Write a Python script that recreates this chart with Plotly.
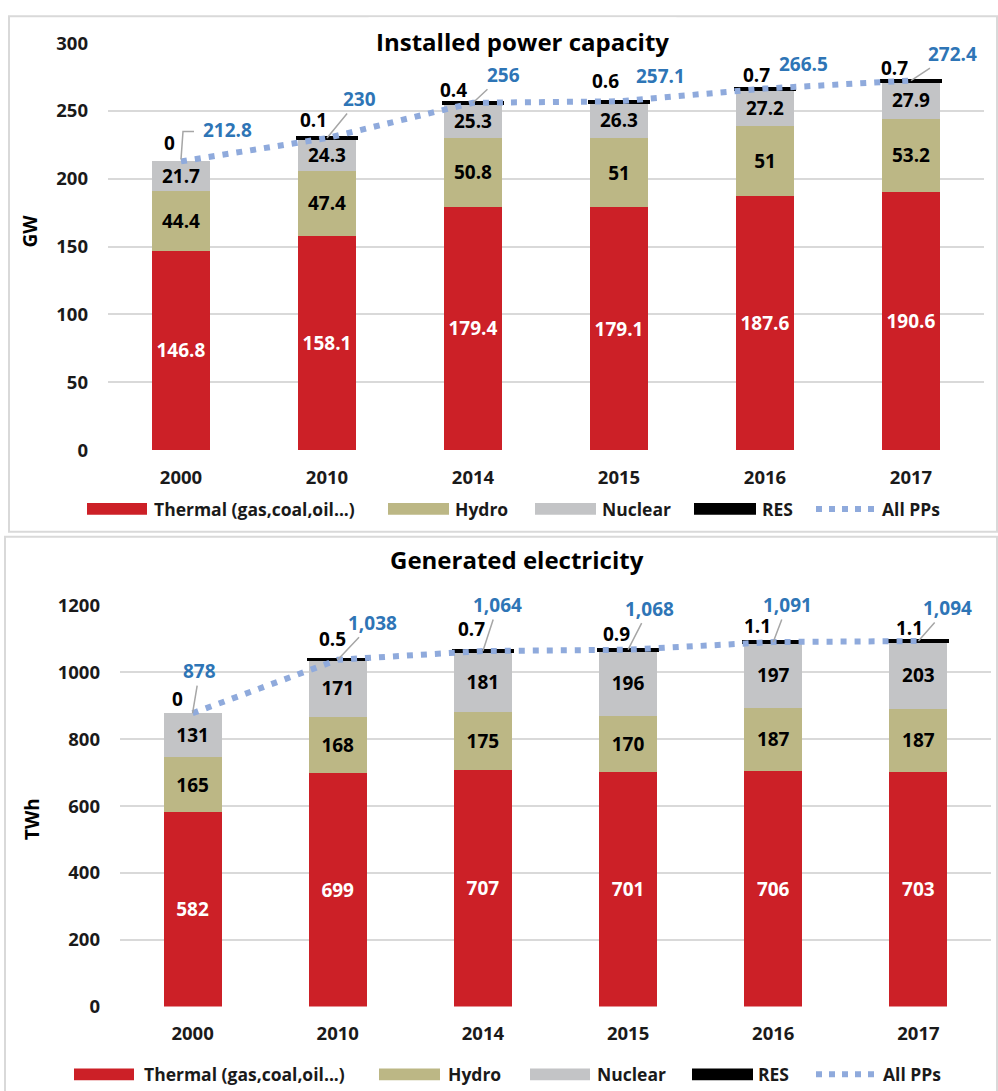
import plotly.graph_objects as go

# ---- data ----
years = ["2000", "2010", "2014", "2015", "2016", "2017"]

cap_thermal = [146.8, 158.1, 179.4, 179.1, 187.6, 190.6]
cap_hydro = [44.4, 47.4, 50.8, 51, 51, 53.2]
cap_nuclear = [21.7, 24.3, 25.3, 26.3, 27.2, 27.9]
cap_res = [0, 0.1, 0.4, 0.6, 0.7, 0.7]
cap_total = [212.8, 230, 256, 257.1, 266.5, 272.4]

gen_thermal = [582, 699, 707, 701, 706, 703]
gen_hydro = [165, 168, 175, 170, 187, 187]
gen_nuclear = [131, 171, 181, 196, 197, 203]
gen_res = [0, 0.5, 0.7, 0.9, 1.1, 1.1]
gen_total = [878, 1038, 1064, 1068, 1091, 1094]

# ---- styling ----
W, H = 998, 1091
C_THERMAL = "#CC2027"
C_HYDRO = "#BCB785"
C_NUCLEAR = "#C3C4C6"
C_RES = "#000000"
C_LINE = "#8FAADC"
C_BLUE = "#2E75B6"
C_GRID = "#D9D9D9"
C_LEADER = "#A6A6A6"
FONT = "'Open Sans', Lato, sans-serif"
LABEL_SIZE = 19


def px(x):
    return x / W


def py(y):
    return 1 - (y - 10.8) / (0.9797 * H)


fig = go.Figure()


def add_chart(xa, ya, thermal, hydro, nuclear, res, total):
    common = dict(x=years, xaxis=xa, yaxis=ya, showlegend=False, hoverinfo="skip",
                  textposition="inside", insidetextanchor="middle", textangle=0,
                  texttemplate="%{y}", constraintext="none")
    fig.add_bar(y=thermal, marker=dict(color=C_THERMAL, line=dict(width=0)),
                textfont=dict(color="white", size=LABEL_SIZE, family=FONT, weight="bold"), **common)
    fig.add_bar(y=hydro, marker=dict(color=C_HYDRO, line=dict(width=0)),
                textfont=dict(color="black", size=LABEL_SIZE, family=FONT, weight="bold"), **common)
    fig.add_bar(y=nuclear, marker=dict(color=C_NUCLEAR, line=dict(width=0)),
                textfont=dict(color="black", size=LABEL_SIZE, family=FONT, weight="bold"), **common)
    fig.add_bar(x=years, y=res, xaxis=xa, yaxis=ya, showlegend=False, hoverinfo="skip",
                marker=dict(color=C_RES,
                            line=dict(color=C_RES, width=[0 if v == 0 else 3.5 for v in res])))
    fig.add_scatter(x=years, y=total, xaxis=xa, yaxis=ya, mode="lines", showlegend=False,
                    hoverinfo="skip", line=dict(color=C_LINE, width=6, dash="6px,8px"))


add_chart("x", "y", cap_thermal, cap_hydro, cap_nuclear, cap_res, cap_total)
add_chart("x2", "y2", gen_thermal, gen_hydro, gen_nuclear, gen_res, gen_total)

tickfont_y = dict(size=18.5, family=FONT, color="#1a1a1a", weight="bold")
tickfont_x = dict(size=18.5, family=FONT, color="#1a1a1a", weight="bold")

xcommon = dict(type="category", categoryorder="array", categoryarray=years,
               range=[-0.5, len(years) - 0.5], autorange=False,
               showgrid=False, zeroline=False, showline=False, ticks="",
               tickfont=tickfont_x, ticklabelstandoff=14)
ycommon = dict(showgrid=True, gridcolor=C_GRID, gridwidth=2, zeroline=False,
               showline=False, ticks="", tickfont=tickfont_y, ticklabelstandoff=19,
               autorange=False)

fig.update_layout(
    width=W, height=H, margin=dict(l=0, r=0, t=0, b=0),
    paper_bgcolor="white", plot_bgcolor="white",
    barmode="stack", bargap=0.6,
    uniformtext=dict(minsize=LABEL_SIZE, mode="show"),
    xaxis=dict(domain=[px(108), px(984)], anchor="y", **xcommon),
    yaxis=dict(domain=[py(448), py(40)], anchor="x", range=[0, 300], dtick=50, **ycommon),
    xaxis2=dict(domain=[px(120), px(991)], anchor="y2", **xcommon),
    yaxis2=dict(domain=[py(1006), py(604)], anchor="x2", range=[0, 1200], dtick=200, **ycommon),
)

shapes = []
annots = []

# panel frames
shapes.append(dict(type="rect", xref="paper", yref="paper", x0=px(9), x1=px(997),
                   y0=py(530), y1=py(13), line=dict(color=C_GRID, width=2)))
shapes.append(dict(type="rect", xref="paper", yref="paper", x0=px(5), x1=px(997),
                   y0=py(1110), y1=py(535), line=dict(color=C_GRID, width=2)))


def paper_text(text, x, y, size, angle=0, xanchor="center", bg=None, color="black"):
    d = dict(text=text, x=px(x), y=py(y), xref="paper", yref="paper",
             xanchor=xanchor, yanchor="middle", showarrow=False, textangle=angle,
             font=dict(size=size, family=FONT, color=color))
    if bg:
        d.update(bgcolor=bg, borderpad=7)
    annots.append(d)


# titles
paper_text("<b>Installed power capacity</b>", 522, 38, 24, bg="white")
paper_text("<b>Generated electricity</b>", 517, 558, 24)

# axis titles
paper_text("<b>GW</b>", 30, 229, 19, angle=-90)
paper_text("<b>TWh</b>", 32, 818, 19, angle=-90)

# total (blue) labels with leader lines, RES (black) labels
cap_blue_off = [(46, -31), (32, -39), (30, -28), (41, -25), (38, -25), (41, -27)]
cap_blue_leader = [False, True, True, False, False, True]
cap_res_off = [(-12, -18), (-14, -18), (-20, -13), (-14, -20), (-9, -14), (-17, -13)]
gen_blue_off = [(7, -42), (35, -37), (15, -46), (21, -41), (14, -37), (29, -33)]
gen_blue_leader = [True] * 6
gen_res_off = [(-15, -14), (-5, -21), (-11, -22), (-12, -16), (-16, -16), (-9, -13)]


def fmt_total(v, thousands):
    if thousands:
        return f"{v:,.0f}"
    return f"{v:g}"


def add_point_labels(xa, ya, total, res, blue_off, blue_leader, res_off, thousands):
    for i in range(len(years)):
        dx, dy = blue_off[i]
        annots.append(dict(
            x=i, y=total[i], xref=xa, yref=ya,
            text="<b>" + fmt_total(total[i], thousands) + "</b>",
            showarrow=True, arrowhead=0, arrowwidth=1.5,
            arrowcolor=C_LEADER if blue_leader[i] else "rgba(0,0,0,0)",
            ax=dx, ay=dy, standoff=0,
            font=dict(size=LABEL_SIZE, family=FONT, color=C_BLUE)))
        rx, ry = res_off[i]
        annots.append(dict(
            x=i, y=total[i], xref=xa, yref=ya, text=f"<b>{res[i]:g}</b>",
            showarrow=False, xshift=rx, yshift=-ry, xanchor="center", yanchor="middle",
            font=dict(size=LABEL_SIZE, family=FONT, color="black")))


add_point_labels("x", "y", cap_total, cap_res, cap_blue_off, cap_blue_leader, cap_res_off, False)
add_point_labels("x2", "y2", gen_total, gen_res, gen_blue_off, gen_blue_leader, gen_res_off, True)

# elbow leader for the first capacity total
shapes.append(dict(type="path", xref="x", yref="y", xsizemode="pixel", ysizemode="pixel",
                   xanchor=0, yanchor=cap_total[0], path="M 0 2 L 2 30 L 13 30",
                   line=dict(color=C_LEADER, width=1.5)))

# legends (drawn as swatches + text)
legend_items = [("Thermal (gas,coal,oil...)", C_THERMAL, "bar"),
                ("Hydro", C_HYDRO, "bar"),
                ("Nuclear", C_NUCLEAR, "bar"),
                ("RES", C_RES, "bar"),
                ("All PPs", C_LINE, "dots")]


def add_legend(y_center, swatch_x, text_x):
    for (name, color, kind), (x0, x1), tx in zip(legend_items, swatch_x, text_x):
        if kind == "bar":
            shapes.append(dict(type="rect", xref="paper", yref="paper",
                               x0=px(x0), x1=px(x1), y0=py(y_center + 6), y1=py(y_center - 6),
                               fillcolor=color, line=dict(width=0)))
        else:
            shapes.append(dict(type="line", xref="paper", yref="paper",
                               x0=px(x0), x1=px(x1), y0=py(y_center), y1=py(y_center),
                               line=dict(color=color, width=6, dash="6px,7px")))
        paper_text("<b>" + name + "</b>", tx, y_center, 17.5, xanchor="left", color="#1a1a1a")


add_legend(507, [(87, 147), (388, 449), (535, 596), (694, 756), (816, 876)],
           [152, 453, 600, 760, 880])
add_legend(1074, [(74, 134), (379, 440), (530, 590), (692, 753), (816, 876)],
           [142, 446, 595, 756, 881])

fig.update_layout(shapes=shapes, annotations=annots)
fig.write_html("out.html")
